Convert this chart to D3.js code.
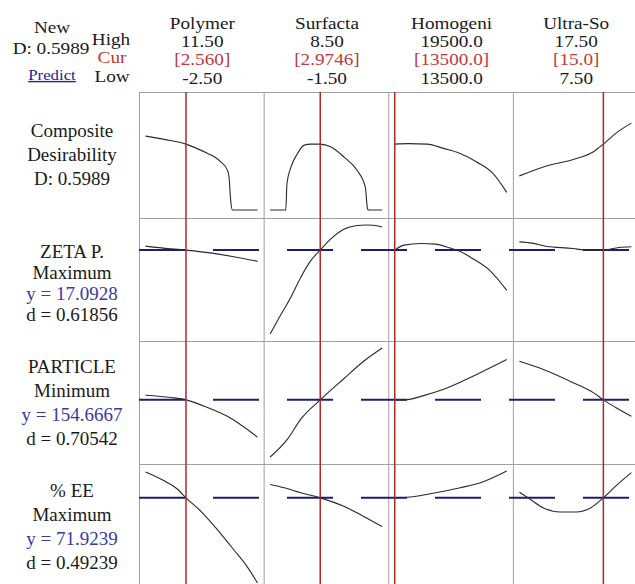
<!DOCTYPE html>
<html lang="en">
<head>
    <meta charset="utf-8">
    <title>Response Optimizer</title>
    <script type="text/javascript" src="https://d3js.org/d3.v7.min.js"></script>
    <style>
        body { margin: 0; background: #fff; }
        svg text { font-family: "Liberation Serif", "DejaVu Serif", serif; }
    </style>
</head>
<body>
    <div id="chart"></div>
    <script type="text/javascript">
        // factors (columns)
        const factorNames = ["Polymer", "Surfacta", "Homogeni", "Ultra-So"];
        const factorHigh = [11.5, 8.5, 19500, 17.5];
        const factorLow = [-2.5, -1.5, 13500, 7.5];
        const factorCur = [2.56, 2.9746, 13500, 15.0];
        const highLabels = ["11.50", "8.50", "19500.0", "17.50"];
        const curLabels = ["[2.560]", "[2.9746]", "[13500.0]", "[15.0]"];
        const lowLabels = ["-2.50", "-1.50", "13500.0", "7.50"];

        // responses (rows)
        const responseNames = ["ZETA P.", "PARTICLE", "% EE"];
        const responseGoals = ["Maximum", "Minimum", "Maximum"];
        const responsePred = [17.0928, 154.6667, 71.9239];
        const responseD = [0.61856, 0.70542, 0.49239];
        const compositeD = 0.5989;

        // curves: [factor value, response value], one list per factor
        const compositeCurves = [
            [[-2.5, 0.672], [0, 0.64], [2.56, 0.599], [5.27, 0.514], [6.2, 0.48], [6.92, 0.437], [7.75, 0.36], [7.94, 0.30], [8.15, 0.085], [8.36, 0], [11.5, 0]],
            [[-1.5, 0], [-0.1, 0], [0.0, 0.24], [0.36, 0.39], [0.95, 0.514], [1.54, 0.59], [2.13, 0.599], [2.97, 0.599], [3.9, 0.575], [5.08, 0.483], [6.26, 0.361], [7.0, 0.208], [7.2, 0.01], [7.3, 0], [8.5, 0]],
            [[13500, 0.599], [14250, 0.603], [15236, 0.599], [16118, 0.56], [17004, 0.514], [17891, 0.437], [18773, 0.331], [19500, 0.16]],
            [[7.5, 0.31], [9.65, 0.391], [12.6, 0.468], [14.08, 0.528], [15.0, 0.599], [16.1, 0.697], [17.5, 0.79]]
        ];
        const zetaCurves = [
            [[-2.5, 17.8], [-0.3, 17.45], [2.56, 17.09], [6.05, 16.49], [8.53, 15.9], [11.5, 15.06]],
            [[-1.5, 2.0], [-0.82, 4.49], [0.36, 8.65], [1.24, 12.2], [2.13, 15.19], [2.9746, 17.09], [3.9, 19.05], [5.08, 20.83], [6.26, 21.5], [7.0, 21.6], [7.73, 21.55], [8.5, 21.24]],
            [[13500, 17.09], [14000, 17.98], [14880, 18.27], [15680, 18.16], [16460, 17.45], [16920, 16.97], [17710, 15.49], [18600, 13.4], [19500, 9.84]],
            [[7.5, 18.57], [8.62, 18.34], [9.95, 17.73], [12.3, 17.38], [13.2, 17.12], [14.1, 17.05], [15.0, 17.09], [16.4, 17.56], [17.5, 17.68]]
        ];
        const particleCurves = [
            [[-2.5, 159.1], [0.72, 156.9], [2.56, 154.67], [5.25, 147.4], [7.73, 138.9], [11.5, 119.0]],
            [[-1.5, 100], [0.07, 117.4], [1.24, 136.3], [2.9746, 154.67], [5.08, 174.9], [6.85, 191.6], [8.5, 204.3]],
            [[13500, 154.67], [14170, 154.9], [15000, 158.5], [16118, 164.8], [17891, 179], [19500, 193.2]],
            [[7.5, 191.6], [9.65, 183.7], [12.3, 171.1], [14.1, 161.6], [15.0, 154.67], [16.1, 147.4], [17.5, 138.9]]
        ];
        const eeCurves = [
            [[-2.5, 79.7], [-0.11, 76.96], [1.55, 74.44], [2.56, 71.92], [4.43, 67.86], [6.5, 62.3], [8.56, 56.23], [10.22, 51.16], [11.5, 46.3]],
            [[-1.5, 75.96], [-0.23, 74.96], [1.24, 73.44], [2.9746, 71.92], [5.08, 69.37], [6.85, 66.34], [8.5, 63.3]],
            [[13500, 71.92], [14170, 72.1], [16118, 73.93], [17004, 74.96], [18241, 76.78], [19500, 80.0]],
            [[7.5, 73.62], [8.5, 71.4], [9.65, 68.89], [11.15, 67.67], [12.6, 67.67], [13.85, 68.89], [15.0, 71.92], [16.1, 75.45], [17.5, 79.5]]
        ];

        const width = 635;
        const height = 584;
        const gridLeft = 139;
        const gridRight = 640;
        const rowEdges = [92, 218, 341, 464, 590];

        const svg = d3.select("#chart")
            .append("svg")
            .attr("width", width)
            .attr("height", height)
            .attr("font-family", "'Liberation Serif', 'DejaVu Serif', serif");

        const col = d3.scaleBand()
            .domain(factorNames)
            .range([gridLeft, 637.5]);

        // one x scale per factor
        const xScales = factorNames.map((f, i) => d3.scaleLinear()
            .domain([factorLow[i], factorHigh[i]])
            .range([col(f) + 6.5, col(f) + 118.5]));

        // grid
        const grid = svg.append("g").attr("stroke", "#a0a0a0").attr("stroke-width", 1);
        rowEdges.forEach(y => {
            grid.append("line").attr("x1", gridLeft).attr("x2", gridRight)
                .attr("y1", y + 0.5).attr("y2", y + 0.5);
        });
        factorNames.forEach(f => {
            grid.append("line").attr("x1", col(f) + 0.5).attr("x2", col(f) + 0.5)
                .attr("y1", rowEdges[0]).attr("y2", height);
        });

        // header text, slightly stretched sideways like the original
        const head = svg.append("g").attr("fill", "#1a1a1a");
        function headText(x, y, t, size, color) {
            return head.append("text")
                .attr("transform", `translate(${x},${y}) scale(1.2,1)`)
                .attr("text-anchor", "middle")
                .attr("font-size", size)
                .attr("fill", color || "#1a1a1a")
                .text(t);
        }
        headText(52, 33, "New", 16);
        headText(51, 54, "D: " + compositeD.toFixed(4), 16);
        headText(52, 80, "Predict", 14, "#22229a").attr("text-decoration", "underline");
        headText(111, 45, "High", 16);
        headText(112, 63, "Cur", 16, "#c0393b");
        headText(112, 82, "Low", 16);

        factorNames.forEach((f, i) => {
            const cx = col(f) + col.bandwidth() / 2 + 1;
            headText(cx, 29, f, 16);
            headText(cx, 47, highLabels[i], 16);
            headText(cx, 65, curLabels[i], 16, "#c0393b");
            headText(cx, 84, lowLabels[i], 16);
        });

        // rows
        const rows = [
            { curves: compositeCurves, lines: ["Composite", "Desirability", "D: " + compositeD.toFixed(4)], pad: 8, pred: null, gap: 24, shift: 6 },
            { curves: zetaCurves, lines: [responseNames[0], responseGoals[0], "y = " + responsePred[0], "d = " + responseD[0]], pad: 7, pred: responsePred[0], gap: 21, shift: 10 },
            { curves: particleCurves, lines: [responseNames[1], responseGoals[1], "y = " + responsePred[1], "d = " + responseD[1]], pad: 7, pred: responsePred[1], gap: 24, shift: 6 },
            { curves: eeCurves, lines: [responseNames[2], responseGoals[2], "y = " + responsePred[2], "d = " + responseD[2]], pad: 7, pred: responsePred[2], gap: 24, shift: 6 }
        ];

        rows.forEach((r, ri) => {
            const top = rowEdges[ri];
            const bottom = rowEdges[ri + 1];
            const allY = r.curves.flat().map(d => d[1]);
            const domain = ri === 0 ? [0, 1] : d3.extent(allY);
            const y = d3.scaleLinear().domain(domain).range([bottom - r.pad, top + r.pad]);

            // row label
            const mid = (top + bottom) / 2;
            const n = r.lines.length;
            r.lines.forEach((t, li) => {
                svg.append("text")
                    .attr("x", 72)
                    .attr("y", mid + r.shift + (li - (n - 1) / 2) * r.gap)
                    .attr("text-anchor", "middle")
                    .attr("font-size", 19)
                    .attr("fill", t.startsWith("y =") ? "#3a3a9e" : "#1a1a1a")
                    .text(t);
            });

            // predicted response line
            if (r.pred !== null) {
                svg.append("line")
                    .attr("x1", gridLeft).attr("x2", gridRight)
                    .attr("y1", y(r.pred)).attr("y2", y(r.pred))
                    .attr("stroke", "#1c1c7a")
                    .attr("stroke-width", 2)
                    .attr("stroke-dasharray", "46,28");
            }

            // curves
            r.curves.forEach((c, ci) => {
                const line = d3.line()
                    .x(d => xScales[ci](d[0]))
                    .y(d => y(d[1]))
                    .curve(d3.curveMonotoneX);
                svg.append("path")
                    .datum(c)
                    .attr("d", line)
                    .attr("fill", "none")
                    .attr("stroke", "#2a2a2a")
                    .attr("stroke-width", 1.1);
            });
        });

        // current setting lines
        svg.append("g")
            .selectAll("line")
            .data(factorCur)
            .enter()
            .append("line")
                .attr("x1", (d, i) => xScales[i](d))
                .attr("x2", (d, i) => xScales[i](d))
                .attr("y1", rowEdges[0])
                .attr("y2", height)
                .attr("stroke", "#a62a2a")
                .attr("stroke-width", 1.5);
    </script>
</body>
</html>
